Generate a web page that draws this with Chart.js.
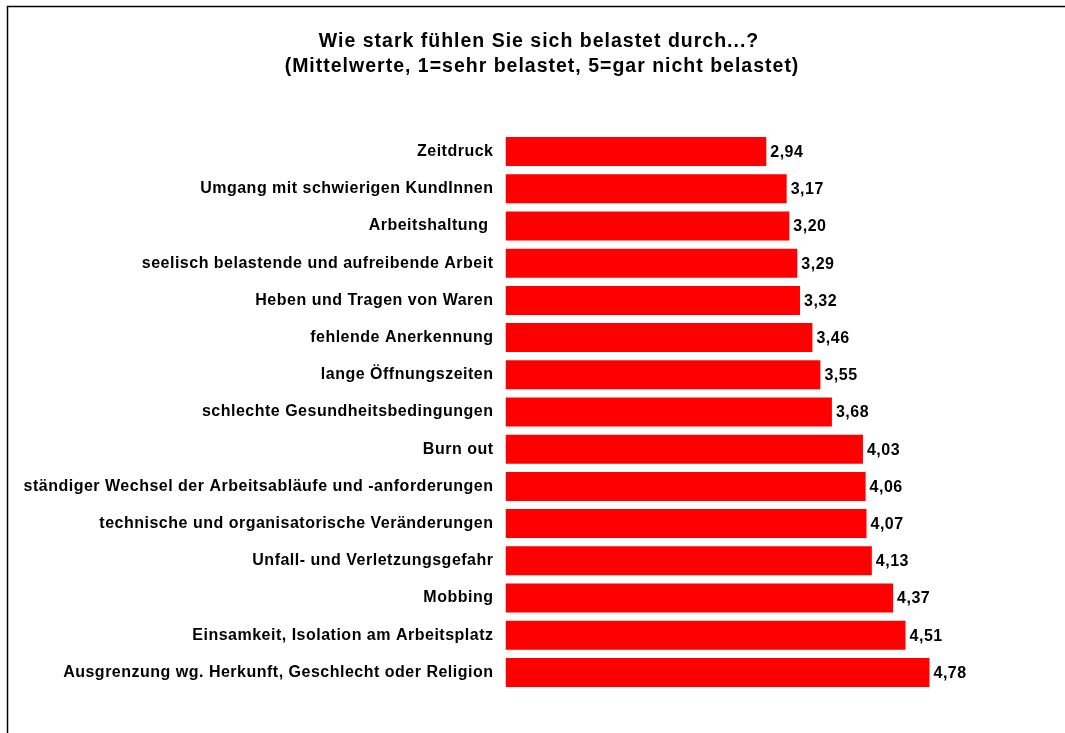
<!DOCTYPE html>
<html>
<head>
<meta charset="utf-8">
<script src="https://cdn.jsdelivr.net/npm/chart.js@4"></script>
<style>
  html, body { margin: 0; padding: 0; background: #fff; }
  #wrap { position: relative; width: 1065px; height: 733px; }
</style>
</head>
<body>
<div id="wrap"><canvas id="chart" width="1065" height="733"></canvas></div>
<script>
const titleLines = [
    'Wie stark fühlen Sie sich belastet durch...?',
    '(Mittelwerte, 1=sehr belastet, 5=gar nicht belastet)'
];

const categories = [
    'Zeitdruck',
    'Umgang mit schwierigen KundInnen',
    'Arbeitshaltung ',
    'seelisch belastende und aufreibende Arbeit',
    'Heben und Tragen von Waren',
    'fehlende Anerkennung',
    'lange Öffnungszeiten',
    'schlechte Gesundheitsbedingungen',
    'Burn out',
    'ständiger Wechsel der Arbeitsabläufe und -anforderungen',
    'technische und organisatorische Veränderungen',
    'Unfall- und Verletzungsgefahr',
    'Mobbing',
    'Einsamkeit, Isolation am Arbeitsplatz',
    'Ausgrenzung wg. Herkunft, Geschlecht oder Religion'
];

const meanValues = [2.94, 3.17, 3.20, 3.29, 3.32, 3.46, 3.55, 3.68, 4.03, 4.06, 4.07, 4.13, 4.37, 4.51, 4.78];

const FONT = '"Liberation Sans", Arial, sans-serif';

// frame lines and title; the reference text is set a bit wide, so add some letter spacing
const framePlugin = {
    id: 'frame',
    beforeDraw(chart) {
        const ctx = chart.ctx;
        ctx.save();
        ctx.strokeStyle = '#000';
        ctx.lineWidth = 1.5;
        ctx.beginPath();
        ctx.moveTo(7.5, 733);
        ctx.lineTo(7.5, 6.5);
        ctx.lineTo(1065, 6.5);
        ctx.stroke();

        ctx.fillStyle = '#000';
        ctx.font = 'bold 19.5px ' + FONT;
        ctx.letterSpacing = '1px';
        ctx.textAlign = 'center';
        ctx.textBaseline = 'middle';
        ctx.fillText(titleLines[0], 539, 42);
        ctx.fillText(titleLines[1], 542, 67);
        ctx.restore();
        // tick labels drawn after this pick up the spacing too
        ctx.letterSpacing = '0.5px';
    }
};

// value labels at bar ends
const valueLabels = {
    id: 'valueLabels',
    afterDatasetsDraw(chart) {
        const ctx = chart.ctx;
        const meta = chart.getDatasetMeta(0);
        ctx.save();
        ctx.fillStyle = '#000';
        ctx.font = 'bold 16px ' + FONT;
        ctx.letterSpacing = '0.5px';
        ctx.textAlign = 'left';
        ctx.textBaseline = 'middle';
        meta.data.forEach((bar, i) => {
            ctx.fillText(meanValues[i].toFixed(2).replace('.', ','), bar.x + 4, bar.y + 1);
        });
        ctx.restore();
    }
};

new Chart(document.getElementById('chart'), {
    type: 'bar',
    data: {
        labels: categories,
        datasets: [{
            data: meanValues,
            backgroundColor: '#ff0000',
            borderWidth: 0,
            categoryPercentage: 1,
            barPercentage: 0.78
        }]
    },
    options: {
        indexAxis: 'y',
        responsive: false,
        animation: false,
        layout: { padding: { top: 133, bottom: 42, left: 0, right: 116 } },
        plugins: {
            legend: { display: false },
            title: { display: false },
            tooltip: { enabled: false }
        },
        scales: {
            x: {
                display: false,
                min: 0,
                max: 5
            },
            y: {
                afterFit(scale) { scale.width = 505.5; },
                grid: { display: false, drawTicks: false },
                border: { display: false },
                ticks: {
                    color: '#000',
                    padding: 12,
                    autoSkip: false,
                    font: { family: FONT, size: 16, weight: 'bold' }
                }
            }
        }
    },
    plugins: [framePlugin, valueLabels]
});
</script>
</body>
</html>
